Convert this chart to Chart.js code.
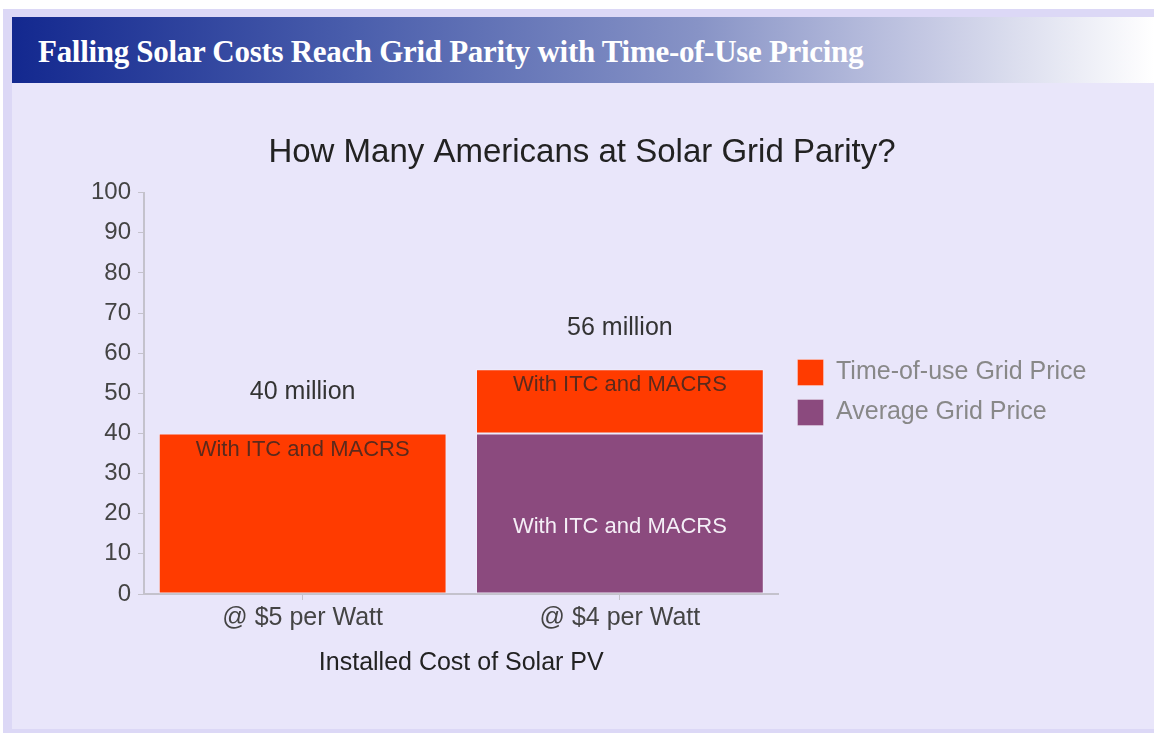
<!DOCTYPE html>
<html>
<head>
<meta charset="utf-8">
<script src="https://cdn.jsdelivr.net/npm/chart.js@4/dist/chart.umd.min.js"></script>
<style>
  html, body { margin: 0; padding: 0; background: #ffffff; }
  #frame {
    position: absolute; left: 3px; top: 9px; width: 1151px; height: 724px;
    background: #dcd8f6;
  }
  #inner {
    position: absolute; left: 9px; top: 8px; right: 0; bottom: 4px;
    background: #e9e6fa;
  }
  #header {
    position: absolute; left: 0; top: 0; right: 0; height: 66px;
    background: linear-gradient(to right, #13288f 0%, #4a5eac 30%, #8793c6 60%, #c4c8e3 80%, #ffffff 100%);
  }
  #header h1 {
    margin: 0; position: absolute; left: 26px; top: 17px; line-height: 1.15;
    font-family: "Liberation Serif", serif; font-weight: bold; font-size: 31px;
    color: #ffffff; letter-spacing: -0.3px;
  }
  #chartBox {
    position: absolute; left: 0; top: 83px; width: 1154px; height: 621px;
  }
</style>
</head>
<body>
<div id="frame">
  <div id="inner">
    <div id="header"><h1>Falling Solar Costs Reach Grid Parity with Time-of-Use Pricing</h1></div>
  </div>
</div>
<div id="chartBox"><canvas id="parityChart"></canvas></div>
<script>
const categories = ['@ $5 per Watt', '@ $4 per Watt'];
const averageGrid = [0, 40];
const timeOfUse = [40, 16];
const totals = ['40 million', '56 million'];
const segmentNote = 'With ITC and MACRS';

const FONT = '"Liberation Sans", Arial, sans-serif';

document.addEventListener('DOMContentLoaded', function() {
  // chart.js caps a side legend at a quarter of the width, so loosen it a bit
  // and keep the big title centred on the whole panel
  const boxTweaks = {
    id: 'boxTweaks',
    afterLayout(chart) {
      const lg = chart.legend;
      lg.left += 5;
      lg.top += 10;
      lg.bottom += 10;
      lg.right = chart.width;
      lg.width = lg.right - lg.left;
      const t = chart.titleBlock;
      t.left = 0;
      t.right = 1164;
      t.width = 1164;
    }
  };

  // writes the "With ITC..." notes inside bars and totals above them
  const barNotes = {
    id: 'barNotes',
    afterDatasetsDraw(chart) {
      const ctx = chart.ctx;
      ctx.save();
      ctx.textAlign = 'center';
      ctx.textBaseline = 'middle';
      const avgMeta = chart.getDatasetMeta(0);
      const touMeta = chart.getDatasetMeta(1);
      categories.forEach(function(c, i) {
        const tou = touMeta.data[i];
        const avg = avgMeta.data[i];
        ctx.font = '22px ' + FONT;
        if (timeOfUse[i] > 0) {
          ctx.fillStyle = '#5b2a1c';
          ctx.fillText(segmentNote, tou.x, tou.y + 16);
        }
        if (averageGrid[i] > 0) {
          ctx.fillStyle = '#f4eef6';
          ctx.fillText(segmentNote, avg.x, (avg.y + avg.base) / 2 + 13);
        }
        const top = Math.min(tou.y, avg.y);
        ctx.fillStyle = '#333333';
        ctx.font = '25px ' + FONT;
        ctx.fillText(totals[i], tou.x, top - 41);
      });
      ctx.restore();
    }
  };

  const ctx = document.getElementById('parityChart').getContext('2d');
  new Chart(ctx, {
    type: 'bar',
    data: {
      labels: categories,
      datasets: [{
        label: 'Average Grid Price',
        data: averageGrid,
        backgroundColor: '#8b4a7e',
        borderColor: 'rgba(255,255,255,0.3)',
        borderWidth: 1,
        borderSkipped: false
      }, {
        label: 'Time-of-use Grid Price',
        data: timeOfUse,
        backgroundColor: '#ff3b00',
        borderColor: 'rgba(255,255,255,0.3)',
        borderWidth: 1,
        borderSkipped: false
      }]
    },
    options: {
      responsive: true,
      maintainAspectRatio: false,
      animation: false,
      events: [],
      layout: { padding: { left: 84, right: 144, top: 0, bottom: 22 } },
      datasets: { bar: { categoryPercentage: 0.95, barPercentage: 0.955 } },
      scales: {
        x: {
          stacked: true,
          grid: { display: true, drawOnChartArea: false, offset: false, tickLength: 6, color: '#c4c2cc' },
          border: { color: '#c4c2cc', width: 2 },
          ticks: { color: '#444444', font: { family: FONT, size: 25 }, padding: 3 },
          title: { display: true, text: 'Installed Cost of Solar PV', color: '#222222', padding: { top: 12, bottom: 4 },
                   font: { family: FONT, size: 25 } }
        },
        y: {
          stacked: true,
          min: 0,
          max: 100,
          ticks: { stepSize: 10, color: '#444444', padding: 7, font: { family: FONT, size: 24 } },
          grid: { display: true, drawOnChartArea: false, tickLength: 6, color: '#c4c2cc' },
          border: { color: '#c4c2cc', width: 2 }
        }
      },
      plugins: {
        legend: {
          position: 'right',
          reverse: true,
          labels: {
            boxWidth: 26, boxHeight: 26, padding: 14,
            color: '#888888',
            font: { family: FONT, size: 25 }
          }
        },
        title: {
          display: true,
          text: 'How Many Americans at Solar Grid Parity?',
          color: '#222222',
          padding: { top: 50, bottom: 20 },
          font: { family: FONT, size: 33, weight: 'normal' }
        },
        tooltip: { enabled: false }
      }
    },
    plugins: [boxTweaks, barNotes]
  });
});
</script>
</body>
</html>
